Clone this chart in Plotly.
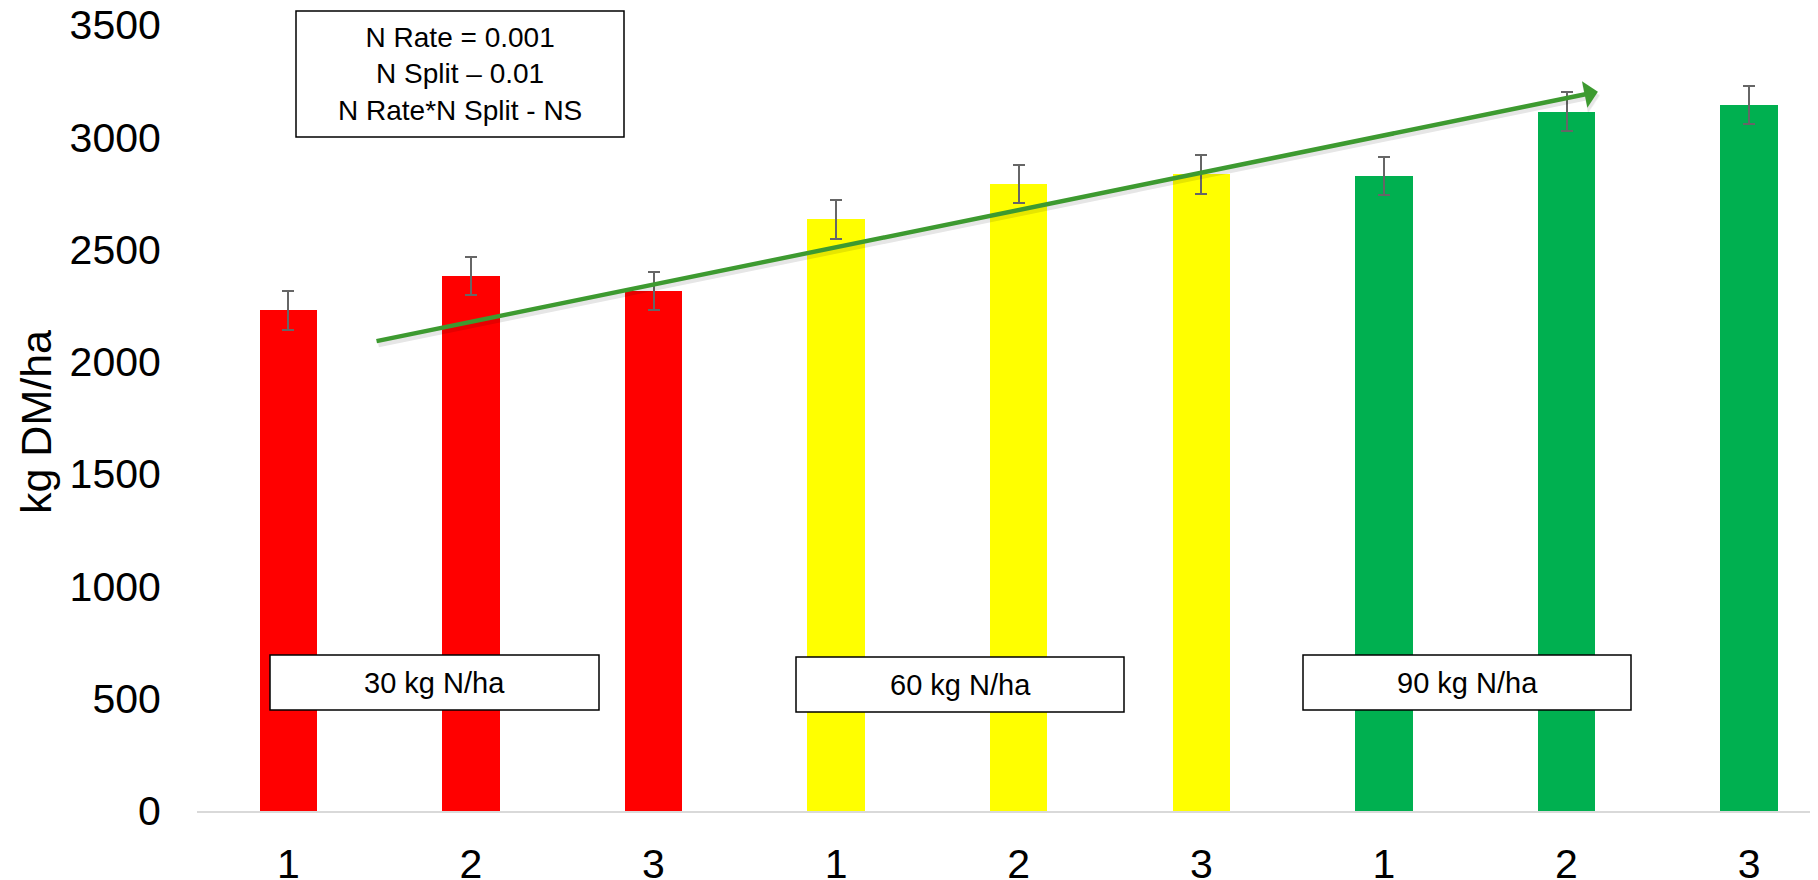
import plotly.graph_objects as go

# ---- data ----
split_labels = ["1", "2", "3", "1", "2", "3", "1", "2", "3"]
dm_yield = [2230, 2382, 2315, 2635, 2792, 2835, 2828, 3113, 3144]
dm_error = [86, 86, 86, 86, 86, 86, 86, 87, 86]
bar_colors = ["#FF0000", "#FF0000", "#FF0000",
              "#FFFF00", "#FFFF00", "#FFFF00",
              "#00B050", "#00B050", "#00B050"]
rate_labels = ["30 kg N/ha", "60 kg N/ha", "90 kg N/ha"]
stats_text = ["N Rate = 0.001", "N Split \u2013 0.01", "N Rate*N Split - NS"]
trend_start = (0.475, 2091)
trend_end = (7.172, 3203)
y_ticks = [0, 500, 1000, 1500, 2000, 2500, 3000, 3500]
y_title = "kg DM/ha"

FONT = "Liberation Sans, Arial, sans-serif"
positions = list(range(len(split_labels)))

fig = go.Figure()
fig.add_trace(go.Bar(
    x=positions, y=dm_yield, width=0.315,
    marker=dict(color=bar_colors, line=dict(width=0)),
    error_y=dict(type="data", array=dm_error, visible=True,
                 color="#666666", thickness=2, width=6),
    showlegend=False, hoverinfo="skip",
))

# page body has an 8px margin; size the figure to fill the window exactly
OFF = 8
W, H = 1818 - OFF, 880 - OFF
PLOT_L, PLOT_T, PLOT_B = 197, 25, 811          # plot area in window pixels
L, T = PLOT_L - OFF, PLOT_T - OFF
B = H - (PLOT_B - OFF)
R = 0
pw, ph = W - L - R, H - T - B

def px_x(p):
    return (p - PLOT_L) / pw

def px_y(p):
    return (PLOT_B - p) / ph

shapes = []
annotations = []

# stats box at top
shapes.append(dict(type="rect", xref="paper", yref="paper",
                   x0=px_x(296), x1=px_x(624), y0=px_y(137), y1=px_y(11),
                   line=dict(color="#000000", width=1.5), fillcolor="white", layer="above"))
annotations.append(dict(xref="paper", yref="paper", x=px_x(460), y=px_y(74.5),
                        text="<br>".join(stats_text), showarrow=False,
                        font=dict(family=FONT, size=28, color="#000000"),
                        xanchor="center", yanchor="middle", align="center"))

# rate boxes
rate_boxes = [(270, 599, 655, 710), (796, 1124, 657, 712), (1303, 1631, 655, 710)]
for lbl, (bx0, bx1, by0, by1) in zip(rate_labels, rate_boxes):
    shapes.append(dict(type="rect", xref="paper", yref="paper",
                       x0=px_x(bx0), x1=px_x(bx1), y0=px_y(by1), y1=px_y(by0),
                       line=dict(color="#000000", width=1.5), fillcolor="white", layer="above"))
    annotations.append(dict(xref="paper", yref="paper", x=px_x((bx0 + bx1) / 2),
                            y=px_y((by0 + by1) / 2), text=lbl, showarrow=False,
                            font=dict(family=FONT, size=29, color="#000000"),
                            xanchor="center", yanchor="middle"))

# y axis title
annotations.append(dict(xref="paper", yref="paper", x=px_x(36), y=px_y(422),
                        text=y_title, showarrow=False, textangle=-90,
                        font=dict(family=FONT, size=43, color="#000000"),
                        xanchor="center", yanchor="middle"))

# trend arrow shadow + arrow
annotations.append(dict(x=trend_end[0] + 0.01, y=trend_end[1] - 16,
                        ax=trend_start[0] + 0.01, ay=trend_start[1] - 16,
                        xref="x", yref="y", axref="x", ayref="y", text="",
                        showarrow=True, arrowhead=1, arrowsize=1.0, arrowwidth=5,
                        arrowcolor="rgba(0,0,0,0.10)"))
annotations.append(dict(x=trend_end[0], y=trend_end[1],
                        ax=trend_start[0], ay=trend_start[1],
                        xref="x", yref="y", axref="x", ayref="y", text="",
                        showarrow=True, arrowhead=1, arrowsize=1.0, arrowwidth=4.5,
                        arrowcolor="#3D9A30"))

fig.update_layout(
    width=W, height=H,
    margin=dict(l=L, r=R, t=T, b=B, pad=0, autoexpand=False),
    paper_bgcolor="white", plot_bgcolor="white",
    font=dict(family=FONT, color="#000000"),
    shapes=shapes, annotations=annotations,
    bargap=0,
    xaxis=dict(range=[-0.5, -0.5 + pw / 182.6], tickvals=positions, ticktext=split_labels,
               showline=True, linecolor="#D9D9D9", linewidth=2,
               showgrid=False, zeroline=False, automargin=False,
               ticklabeloverflow="allow",
               ticks="outside", ticklen=16, tickcolor="rgba(0,0,0,0)",
               tickfont=dict(family=FONT, size=41, color="#000000")),
    yaxis=dict(range=[0, 3500], tickvals=y_ticks, showgrid=False, zeroline=False,
               showline=False, automargin=False, ticklabeloverflow="allow",
               ticks="outside", ticklen=27, tickcolor="rgba(0,0,0,0)",
               tickfont=dict(family=FONT, size=41, color="#000000")),
)

fig.write_html("out.html")
